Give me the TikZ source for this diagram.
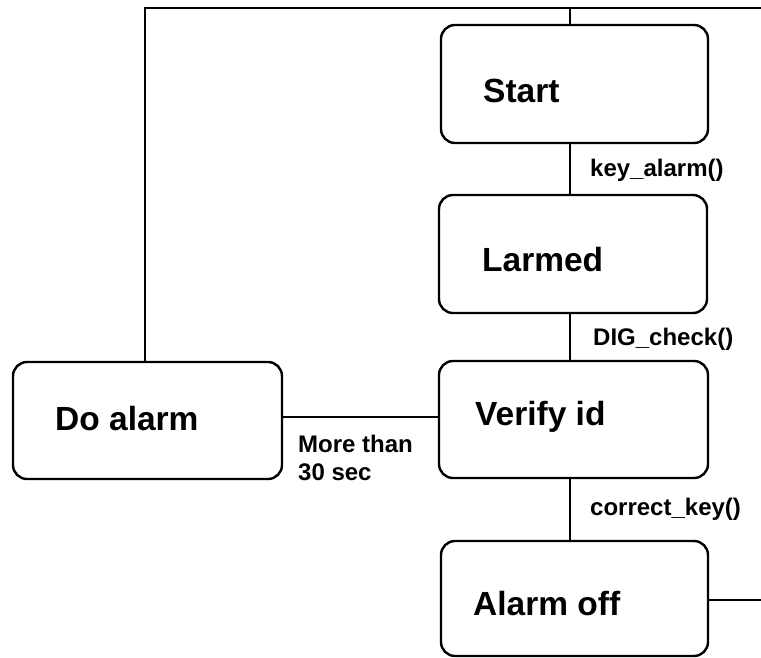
\documentclass[tikz,border=0pt]{standalone}
\usepackage{fontspec}
\setmainfont{Liberation Sans}
\begin{document}
\begin{tikzpicture}[x=1pt,y=-1pt,
  statebox/.style={draw=black, line width=2.4pt, rounded corners=14pt, inner sep=0pt},
  conn/.style={draw=black, line width=2pt},
  stxt/.style={anchor=base west, inner sep=0pt, font=\fontsize{33.5}{38}\selectfont\bfseries},
  ltxt/.style={anchor=base west, inner sep=0pt, font=\fontsize{24}{28}\selectfont\bfseries, align=left}]
\useasboundingbox (0,0) rectangle (761,657);
\fill[white] (0,0) rectangle (761,657);
% boxes
\node[statebox, minimum width=267pt, minimum height=118pt] (start) at (574.5,84) {};
\node[statebox, minimum width=268pt, minimum height=118pt] (larmed) at (573,254) {};
\node[statebox, minimum width=269pt, minimum height=117pt] (verify) at (573.5,419.5) {};
\node[statebox, minimum width=269pt, minimum height=117pt] (doalarm) at (147.5,420.5) {};
\node[statebox, minimum width=267pt, minimum height=115pt] (alarmoff) at (574.5,598.5) {};
% texts
\node[stxt] (tstart) at (483,102) {Start};
\node[stxt] (tlarmed) at (482,271) {Larmed};
\node[stxt] (tverify) at (475,425) {Verify id};
\node[stxt] (tdo) at (55,430) {Do alarm};
\node[stxt] (toff) at (473,615) {Alarm off};
% coordinates
\coordinate (tl) at (145,8);
\coordinate (tm) at (570,8);
\coordinate (tr) at (761,8);
\coordinate (br) at (761,600);
% connectors
\draw[conn] (doalarm.north -| tl) -- (tl) -- (tr);
\draw[conn] (tm) -- (tm |- start.north);
\draw[conn] (start.south -| tm) -- (larmed.north -| tm);
\draw[conn] (larmed.south -| tm) -- (verify.north -| tm);
\draw[conn] (verify.south -| tm) -- (alarmoff.north -| tm);
\draw[conn] (doalarm.east |- 0,417) -- (verify.west |- 0,417);
\draw[conn] (alarmoff.east |- br) -- (br);
% labels
\node[ltxt] (l1) at (590,176) {key\_alarm()};
\node[ltxt] (l2) at (593,345) {DIG\_check()};
\node[ltxt] (l3) at (590,515) {correct\_key()};
\node[ltxt] (l4) at (298,480) {More than\\30 sec};
\end{tikzpicture}
\end{document}
